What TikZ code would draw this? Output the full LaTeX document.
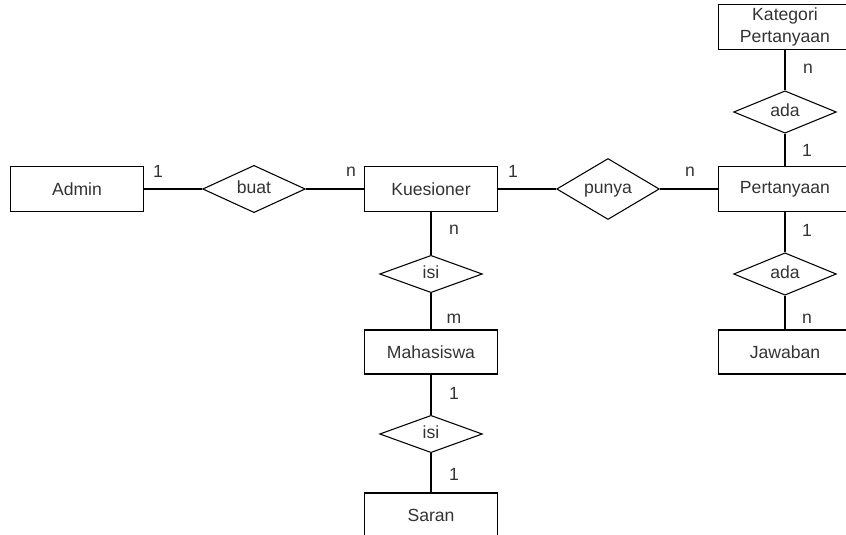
\documentclass[tikz,border=0pt]{standalone}
\usepackage{fontspec}
\setmainfont{Liberation Sans}
\usepackage{tikz}
\usetikzlibrary{positioning,shapes.geometric}
\usepackage{xcolor}
\definecolor{ErText}{HTML}{333333}

\begin{document}
\begin{tikzpicture}[x=0.75pt,y=-0.75pt,
    font=\fontsize{13.2pt}{15pt}\selectfont,
    entity/.style={draw,line width=0.8pt,text=ErText,minimum width=99.75pt,minimum height=34pt,inner sep=0pt,align=center},
    relasi/.style={draw,line width=0.8pt,text=ErText,shape=diamond,minimum width=77pt,minimum height=28pt,inner sep=0pt,text height=1.5ex,text depth=0.35ex},
    kard/.style={text=ErText,inner sep=0pt}]
  \clip (0,0) rectangle (846,535);
  \node[entity] (admin) at (77,189) {Admin};
  \node[relasi] (buat) at (254,189) {buat};
  \node[entity] (kuesioner) at (431,189) {Kuesioner};
  \node[relasi] (punya) at (608,189) {punya};
  \node[entity] (pertanyaan) at (785,189) {Pertanyaan};
  \node[entity,minimum height=34pt] (kategori) at (785,27) {Kategori\\[1pt]Pertanyaan};
  \node[relasi] (adaatas) at (785,112) {ada};
  \node[relasi] (adabawah) at (785,274) {ada};
  \node[entity,minimum height=33pt] (jawaban) at (785,352) {Jawaban};
  \node[relasi] (isimhs) at (431,274) {isi};
  \node[entity,minimum height=33pt] (mahasiswa) at (431,352) {Mahasiswa};
  \node[relasi] (isisaran) at (431,434) {isi};
  \node[entity,minimum height=33pt] (saran) at (431,515) {Saran};
  % garis relasi
  \draw[line width=0.8pt] (admin)--(buat)--(kuesioner)--(punya)--(pertanyaan);
  \draw[line width=0.8pt] (kategori)--(adaatas)--(pertanyaan)--(adabawah)--(jawaban);
  \draw[line width=0.8pt] (kuesioner)--(isimhs)--(mahasiswa)--(isisaran)--(saran);
  % kardinalitas
  \node[kard] (k1) at (158,171) {1};
  \node[kard] (k2) at (351,172) {n};
  \node[kard] (k3) at (513,171) {1};
  \node[kard] (k4) at (690,172) {n};
  \node[kard] (k5) at (808,69) {n};
  \node[kard] (k6) at (807,150) {1};
  \node[kard] (k7) at (807,230) {1};
  \node[kard] (k8) at (807,319) {n};
  \node[kard] (k9) at (454,230) {n};
  \node[kard] (k10) at (454,319) {m};
  \node[kard] (k11) at (454,393) {1};
  \node[kard] (k12) at (454,474) {1};
\end{tikzpicture}
\end{document}
